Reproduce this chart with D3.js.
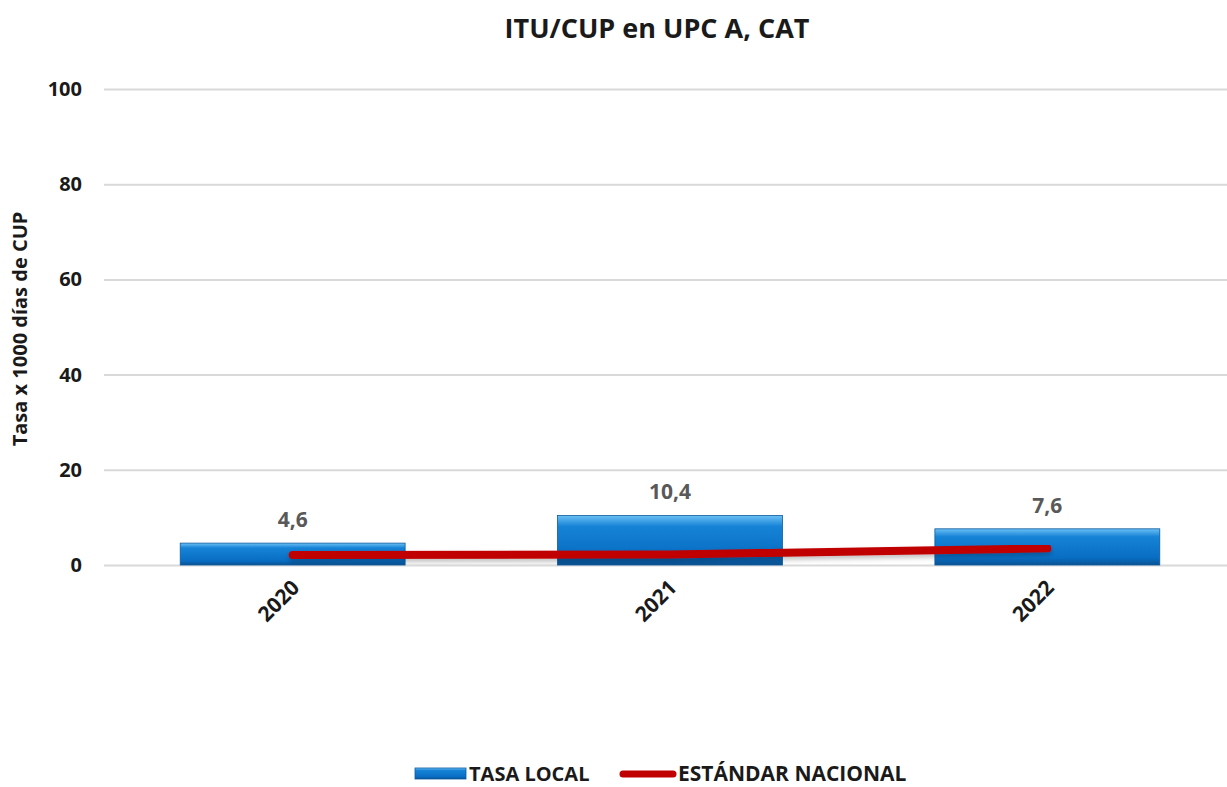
<!DOCTYPE html>
<html>
<head>
<meta charset="utf-8">
<script src="https://cdn.jsdelivr.net/npm/d3@7"></script>
<style>
  body { margin: 0; background: #fff; }
  text { font-family: "Open Sans", "Noto Sans", sans-serif; font-weight: bold; }
</style>
</head>
<body>
<div id="chart"></div>
<script>
// data
var years = ["2020", "2021", "2022"];
var tasaLocal = [4.6, 10.4, 7.6];
var estandarNacional = [2.1, 2.2, 3.5];
var yTicks = [0, 20, 40, 60, 80, 100];

var W = 1227, H = 787;
var margin = {top: 89, right: -9, bottom: 222, left: 104},
    width = W - margin.left - margin.right,
    height = H - margin.top - margin.bottom;

var svg = d3.select("#chart")
    .append("svg")
    .attr("width", W)
    .attr("height", H);

// gradients for the bevelled bars
var defs = svg.append("defs");
var grad = defs.append("linearGradient")
    .attr("id", "barGrad")
    .attr("x1", 0).attr("y1", 0).attr("x2", 0).attr("y2", 1);
grad.append("stop").attr("offset", "0%").attr("stop-color", "#6cc0f5");
grad.append("stop").attr("offset", "22%").attr("stop-color", "#1683d6");
grad.append("stop").attr("offset", "80%").attr("stop-color", "#086ec4");
grad.append("stop").attr("offset", "100%").attr("stop-color", "#0a5293");

var shadow = defs.append("filter").attr("id", "shadow")
    .attr("x", "-5%").attr("y", "-50%").attr("width", "110%").attr("height", "300%");
shadow.append("feDropShadow")
    .attr("dx", 0).attr("dy", 3).attr("stdDeviation", 2.5)
    .attr("flood-color", "#000").attr("flood-opacity", 0.25);

// title
svg.append("text")
    .attr("x", 657)
    .attr("y", 38)
    .attr("text-anchor", "middle")
    .style("font-size", "27px")
    .attr("fill", "#1a1a1a")
    .text("ITU/CUP en UPC A, CAT");

var g = svg.append("g")
    .attr("transform", "translate(" + margin.left + "," + margin.top + ")");

var x = d3.scaleBand()
    .domain(years)
    .range([0, width])
    .paddingInner(0.404)
    .paddingOuter(0.202);

var y = d3.scaleLinear()
    .domain([0, 100])
    .range([height, 0]);

// gridlines + y axis
var yAxis = g.append("g")
    .call(d3.axisLeft(y).tickValues(yTicks).tickSize(-width).tickPadding(22));
yAxis.select(".domain").remove();
yAxis.selectAll(".tick line")
    .attr("stroke", "#d9d9d9")
    .attr("stroke-width", 2);
yAxis.selectAll(".tick text")
    .attr("fill", "#1a1a1a")
    .style("font-size", "20px");

// y axis title
svg.append("text")
    .attr("transform", "translate(27," + (margin.top + height / 2 + 2) + ") rotate(-90)")
    .attr("text-anchor", "middle")
    .style("font-size", "20px")
    .attr("fill", "#1a1a1a")
    .text("Tasa x 1000 días de CUP");

// x axis labels
var xAxis = g.append("g")
    .attr("transform", "translate(0," + height + ")")
    .call(d3.axisBottom(x).tickSize(0).tickPadding(0));
xAxis.select(".domain").remove();
xAxis.selectAll(".tick text")
    .attr("text-anchor", "end")
    .attr("dy", 0)
    .attr("transform", "translate(8,24) rotate(-45)")
    .attr("fill", "#1a1a1a")
    .style("font-size", "21px");

// bars
g.selectAll(".bar")
    .data(tasaLocal)
    .enter()
    .append("rect")
    .attr("class", "bar")
    .attr("x", function(d, i) { return x(years[i]); })
    .attr("y", function(d) { return y(d); })
    .attr("width", x.bandwidth())
    .attr("height", function(d) { return height - y(d); })
    .attr("fill", "url(#barGrad)")
    .attr("stroke", "#0b5a9e")
    .attr("stroke-width", 0.8);

// bar value labels
g.selectAll(".lbl")
    .data(tasaLocal)
    .enter()
    .append("text")
    .attr("class", "lbl")
    .attr("x", function(d, i) { return x(years[i]) + x.bandwidth() / 2; })
    .attr("y", function(d) { return y(d) - 16; })
    .attr("text-anchor", "middle")
    .attr("fill", "#595959")
    .style("font-size", "21px")
    .text(function(d) { return String(d).replace(".", ","); });

// national standard line
var line = d3.line()
    .x(function(d, i) { return x(years[i]) + x.bandwidth() / 2; })
    .y(function(d) { return y(d); });

g.append("path")
    .datum(estandarNacional)
    .attr("fill", "none")
    .attr("stroke", "#c00000")
    .attr("stroke-width", 8)
    .attr("stroke-linecap", "round")
    .attr("filter", "url(#shadow)")
    .attr("d", line);

// legend
var leg = svg.append("g").attr("transform", "translate(0,774)");
leg.append("rect")
    .attr("x", 415).attr("y", -6)
    .attr("width", 51).attr("height", 11)
    .attr("fill", "url(#barGrad)")
    .attr("stroke", "#0b5a9e").attr("stroke-width", 0.8);
leg.append("text")
    .attr("x", 469).attr("y", 7)
    .style("font-size", "20px")
    .attr("fill", "#1a1a1a")
    .text("TASA LOCAL");
leg.append("line")
    .attr("x1", 623).attr("x2", 673)
    .attr("y1", 0).attr("y2", 0)
    .attr("stroke", "#c00000")
    .attr("stroke-width", 7)
    .attr("stroke-linecap", "round");
leg.append("text")
    .attr("x", 678).attr("y", 7)
    .style("font-size", "21px")
    .attr("fill", "#1a1a1a")
    .text("ESTÁNDAR NACIONAL");
</script>
</body>
</html>
